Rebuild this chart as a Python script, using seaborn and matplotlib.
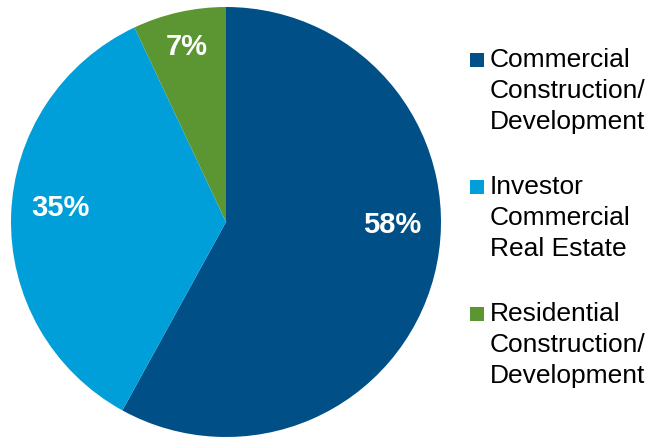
import matplotlib
matplotlib.use('Agg')
import matplotlib.pyplot as plt
import seaborn as sns
from matplotlib.patches import Rectangle

sns.set_theme(style='white')
plt.rcParams['font.family'] = ['Liberation Sans', 'DejaVu Sans']

categories = ['Commercial\nConstruction/\nDevelopment',
              'Investor\nCommercial\nReal Estate',
              'Residential\nConstruction/\nDevelopment']
shares = [58, 35, 7]
colors = ['#004F87', '#009FDA', '#5B9632']
# where the percent labels sit, in pie units (radius = 1)
label_pos = [(0.772, -0.014), (-0.772, 0.065), (-0.181, 0.814)]

W, H = 653, 437
fig = plt.figure(figsize=(W / 100, H / 100), dpi=100)
fig.patch.set_facecolor('white')

# pie axes: center (226,222), radius 215 px
cx, cy, r = 226, 222, 215
ax = fig.add_axes([(cx - r) / W, (H - cy - r) / H, 2 * r / W, 2 * r / H])
wedges, texts, autotexts = ax.pie(shares, colors=colors, startangle=90, counterclock=False,
                                  autopct='%d%%', pctdistance=0.78,
                                  wedgeprops=dict(linewidth=0),
                                  textprops=dict(color='white', fontsize=21, fontweight='bold'))
for t, p in zip(autotexts, label_pos):
    t.set_position(p)
ax.set_xlim(-1, 1)
ax.set_ylim(-1, 1)
ax.set_aspect('equal')
ax.axis('off')

# legend drawn by hand so the square sits on the first line
top0, step = 48, 127
for i, (lab, col) in enumerate(zip(categories, colors)):
    y = top0 + i * step
    fig.text(490 / W, 1 - y / H, lab, ha='left', va='top', fontsize=19,
             linespacing=1.38, color='black')
    fig.patches.append(Rectangle((470 / W, 1 - (y + 19) / H), 14 / W, 14 / H,
                                 transform=fig.transFigure, facecolor=col,
                                 edgecolor='none'))

fig.savefig('out.png', dpi=100, facecolor='white')
